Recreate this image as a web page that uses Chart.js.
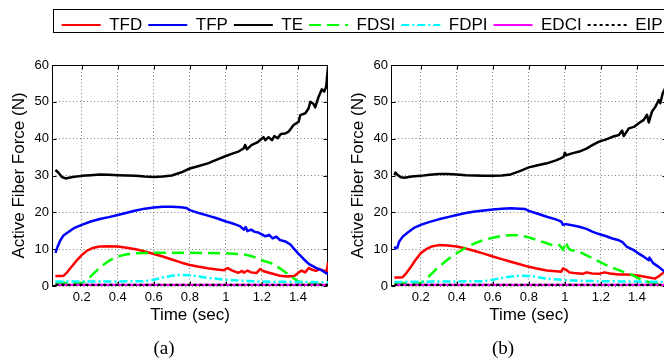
<!DOCTYPE html>
<html><head><meta charset="utf-8">
<script src="https://cdn.jsdelivr.net/npm/chart.js@4/dist/chart.umd.min.js"></script>
<style>
html,body{margin:0;padding:0;background:#fff;overflow:hidden;}
#wrap{position:relative;width:664px;height:360px;overflow:hidden;background:#fff;}
canvas{position:absolute;top:0;}
</style></head><body>
<div id="wrap">
<canvas id="cA" width="340" height="360" style="left:0px"></canvas>
<canvas id="cB" width="340" height="360" style="left:339px"></canvas>
<canvas id="cL" width="760" height="50" style="left:0px"></canvas>
</div>
<script>
// ---------- categories / ticks ----------
const SERIES_NAMES = ['TFD','TFP','TE','FDSI','FDPI','EDCI','EIP'];
const X_TICKS = [0.2,0.4,0.6,0.8,1.0,1.2,1.4];
const X_TICK_LABELS = ['0.2','0.4','0.6','0.8','1','1.2','1.4'];
const Y_TICKS = [0,10,20,30,40,50,60];
const X_MIN = 0.035, X_MAX = 1.567, Y_MIN = 0, Y_MAX = 60;
const CAPTIONS = ['(a)','(b)'];

// ---------- panel (a) values: [time sec, force N] ----------
const A_TFD = [[0.054,2.7],[0.08,2.7],[0.1,2.8],[0.12,3.8],[0.14,5.0],[0.17,6.8],[0.2,8.4],[0.23,9.6],[0.26,10.3],[0.3,10.7],[0.35,10.8],[0.4,10.7],[0.45,10.4],[0.5,10.0],[0.55,9.4],[0.6,8.7],[0.65,8.0],[0.7,7.2],[0.75,6.4],[0.8,5.7],[0.85,5.2],[0.9,4.8],[0.95,4.5],[0.99,4.3],[1.01,4.9],[1.03,4.3],[1.05,3.9],[1.07,3.6],[1.09,4.1],[1.1,3.6],[1.12,4.2],[1.14,3.7],[1.17,3.5],[1.19,4.6],[1.21,4.0],[1.24,3.6],[1.27,3.2],[1.3,2.8],[1.34,2.6],[1.38,2.7],[1.4,3.5],[1.42,4.2],[1.44,3.7],[1.46,4.9],[1.48,4.4],[1.5,4.1],[1.52,4.6],[1.54,4.2],[1.56,4.0],[1.567,6.4]];
const A_TFP = [[0.054,9.0],[0.065,10.5],[0.08,12.3],[0.1,13.8],[0.13,14.8],[0.16,15.8],[0.2,16.6],[0.25,17.5],[0.3,18.2],[0.35,18.7],[0.4,19.3],[0.45,19.9],[0.5,20.5],[0.55,21.0],[0.6,21.3],[0.65,21.5],[0.7,21.5],[0.75,21.4],[0.78,21.2],[0.8,20.6],[0.85,19.8],[0.9,19.1],[0.95,18.4],[1.0,17.5],[1.03,17.1],[1.06,16.6],[1.08,16.2],[1.1,15.3],[1.11,16.0],[1.12,14.9],[1.14,15.3],[1.16,14.7],[1.18,14.5],[1.2,14.0],[1.22,13.5],[1.24,13.9],[1.26,12.9],[1.28,13.4],[1.3,12.5],[1.33,12.1],[1.36,11.2],[1.38,10.0],[1.4,8.9],[1.43,7.4],[1.46,6.0],[1.5,4.9],[1.53,4.3],[1.567,3.2]];
const A_TE = [[0.054,31.5],[0.07,30.8],[0.09,29.6],[0.11,29.2],[0.15,29.6],[0.2,29.9],[0.25,30.1],[0.3,30.3],[0.35,30.2],[0.4,30.1],[0.45,30.0],[0.5,29.9],[0.55,29.7],[0.6,29.6],[0.65,29.7],[0.7,30.0],[0.75,30.8],[0.8,31.9],[0.85,32.6],[0.9,33.3],[0.95,34.3],[1.0,35.3],[1.04,36.0],[1.07,36.5],[1.1,37.4],[1.107,38.3],[1.117,37.1],[1.144,38.3],[1.172,38.9],[1.19,39.6],[1.209,40.4],[1.219,39.6],[1.237,40.4],[1.256,39.6],[1.269,40.7],[1.287,40.1],[1.306,41.3],[1.33,41.4],[1.348,41.9],[1.376,43.7],[1.404,44.6],[1.413,46.4],[1.441,46.9],[1.459,48.2],[1.469,50.0],[1.487,49.4],[1.496,48.5],[1.515,51.4],[1.533,53.4],[1.546,52.8],[1.557,54.1],[1.567,59.5]];
const A_FDSI = [[0.054,0.8],[0.2,0.8],[0.22,1.3],[0.25,2.6],[0.3,5.0],[0.35,6.8],[0.4,8.0],[0.45,8.6],[0.5,8.9],[0.6,9.0],[0.8,9.0],[1.0,8.9],[1.1,8.6],[1.15,8.0],[1.2,7.0],[1.25,6.2],[1.3,4.8],[1.35,3.0],[1.4,1.3],[1.45,0.6],[1.567,0.4]];
const A_FDPI = [[0.054,1.2],[0.3,1.2],[0.55,1.3],[0.6,1.7],[0.65,2.3],[0.7,2.8],[0.75,3.0],[0.8,2.9],[0.85,2.6],[0.9,2.2],[1.0,1.7],[1.1,1.4],[1.2,1.2],[1.4,1.1],[1.567,1.0]];
const A_EDCI = [[0.054,0.3],[1.567,0.3]];
const A_EIP = [[0.054,0.3],[1.567,0.3]];

// ---------- panel (b) values ----------
const B_TFD = [[0.054,2.3],[0.08,2.3],[0.1,2.4],[0.12,3.5],[0.14,4.8],[0.17,7.0],[0.2,8.9],[0.23,10.0],[0.26,10.7],[0.3,11.1],[0.35,11.0],[0.4,10.7],[0.45,10.2],[0.5,9.5],[0.55,8.8],[0.6,8.0],[0.65,7.3],[0.7,6.6],[0.75,5.9],[0.8,5.2],[0.85,4.7],[0.9,4.2],[0.95,4.0],[0.98,3.9],[0.99,4.8],[1.01,4.3],[1.025,3.7],[1.05,3.5],[1.08,3.4],[1.1,3.3],[1.12,3.7],[1.15,3.4],[1.19,3.3],[1.22,3.7],[1.25,3.4],[1.3,3.1],[1.34,3.1],[1.38,3.0],[1.42,2.7],[1.46,2.4],[1.5,2.0],[1.52,2.6],[1.543,3.5],[1.567,3.6]];
const B_TFP = [[0.054,10.7],[0.06,10.2],[0.07,10.4],[0.08,12.0],[0.1,13.4],[0.13,14.6],[0.16,15.7],[0.2,16.6],[0.25,17.4],[0.3,18.1],[0.35,18.7],[0.4,19.3],[0.45,19.8],[0.5,20.2],[0.55,20.5],[0.6,20.8],[0.65,21.0],[0.7,21.1],[0.75,21.0],[0.78,20.9],[0.8,20.4],[0.85,19.6],[0.9,18.8],[0.95,18.1],[0.98,17.5],[0.99,16.6],[1.007,16.8],[1.04,16.5],[1.08,16.1],[1.12,15.5],[1.155,14.7],[1.19,14.1],[1.23,13.5],[1.264,12.9],[1.3,12.4],[1.318,12.0],[1.345,10.6],[1.38,9.8],[1.41,8.8],[1.44,7.9],[1.466,7.0],[1.47,7.7],[1.49,6.2],[1.521,5.2],[1.543,4.3],[1.567,3.3]];
const B_TE = [[0.054,30.1],[0.06,30.8],[0.07,30.2],[0.09,29.5],[0.11,29.4],[0.15,29.7],[0.2,29.9],[0.25,30.2],[0.3,30.4],[0.35,30.4],[0.4,30.3],[0.45,30.1],[0.5,30.0],[0.55,29.9],[0.6,29.9],[0.65,30.0],[0.7,30.3],[0.75,31.2],[0.8,32.2],[0.85,32.8],[0.9,33.3],[0.95,34.1],[0.98,34.7],[0.995,35.2],[1.0,36.2],[1.007,35.5],[1.04,36.0],[1.08,36.5],[1.12,37.3],[1.155,38.3],[1.19,39.2],[1.23,39.8],[1.264,40.5],[1.3,41.0],[1.318,42.2],[1.327,40.7],[1.355,42.8],[1.383,43.2],[1.41,44.2],[1.438,45.1],[1.456,46.5],[1.466,44.4],[1.484,47.4],[1.503,48.7],[1.521,50.5],[1.53,49.6],[1.543,52.3],[1.555,53.5],[1.567,54.5]];
const B_FDSI = [[0.054,0.8],[0.2,0.8],[0.22,1.4],[0.25,2.8],[0.3,5.2],[0.35,7.2],[0.4,8.9],[0.45,10.4],[0.5,11.6],[0.55,12.5],[0.6,13.1],[0.65,13.6],[0.7,13.8],[0.75,13.8],[0.8,13.2],[0.85,12.4],[0.9,11.6],[0.95,10.8],[0.97,11.1],[0.99,9.8],[1.007,12.0],[1.015,10.6],[1.03,9.8],[1.08,9.3],[1.155,7.5],[1.229,5.7],[1.3,4.3],[1.373,3.0],[1.42,1.8],[1.466,1.1],[1.5,0.8],[1.567,0.7]];
const B_FDPI = [[0.054,1.1],[0.3,1.2],[0.55,1.3],[0.6,1.7],[0.65,2.2],[0.7,2.6],[0.75,2.8],[0.8,2.7],[0.85,2.4],[0.9,2.0],[1.0,1.6],[1.1,1.4],[1.2,1.3],[1.4,1.2],[1.567,1.1]];
const B_EDCI = [[0.054,0.3],[1.567,0.3]];
const B_EIP = [[0.054,0.3],[1.567,0.3]];

// ---------- styles ----------
const SANS = "'Liberation Sans', Arial, Helvetica, sans-serif";
const SERIF = "'Liberation Serif', 'Times New Roman', serif";
const STYLES = {
  TFD:{color:'#ff0000',dash:[]},
  TFP:{color:'#0000ff',dash:[]},
  TE:{color:'#000000',dash:[]},
  FDSI:{color:'#00ff00',dash:[12,6]},
  FDPI:{color:'#00ffff',dash:[8,3,2,3]},
  EDCI:{color:'#ff00ff',dash:[]},
  EIP:{color:'#000000',dash:[3,3]}
};
const GRID = 'rgba(0,0,0,0.5)';
Chart.defaults.font.family = SANS;
Chart.defaults.color = '#000';

function makeDatasets(series){
  return SERIES_NAMES.map((name,i)=>({
    label:name,
    data: series[i].map(p=>({x:p[0],y:p[1]})),
    borderColor: STYLES[name].color,
    backgroundColor: STYLES[name].color,
    borderDash: STYLES[name].dash,
    borderWidth: 2.5,
    pointRadius: 0,
    fill: false,
    tension: 0,
    borderCapStyle: 'butt',
    borderJoinStyle: 'round',
    order: SERIES_NAMES.length - i
  }));
}

const frame = {
  id:'frame',
  beforeDatasetsDraw(chart){
    const {ctx, chartArea:a, scales} = chart;
    ctx.save();
    ctx.strokeStyle = '#000'; ctx.lineWidth = 1; ctx.setLineDash([]);
    const L = Math.round(a.left)+0.5, R = Math.round(a.right)-0.5, T = Math.round(a.top)+0.5, B = Math.round(a.bottom)-0.5;
    ctx.strokeRect(L, T, R-L, B-T);
    ctx.beginPath();
    X_TICKS.forEach(v=>{
      const px = Math.round(scales.x.getPixelForValue(v))+0.5;
      ctx.moveTo(px,B); ctx.lineTo(px,B-4);
      ctx.moveTo(px,T); ctx.lineTo(px,T+4);
    });
    Y_TICKS.forEach(v=>{
      const py = Math.round(scales.y.getPixelForValue(v))+0.5;
      ctx.moveTo(L,py); ctx.lineTo(L+4,py);
      ctx.moveTo(R,py); ctx.lineTo(R-4,py);
    });
    ctx.stroke();
    ctx.restore();
  }
};

function plotConfig(series, caption){
  return {
    type:'line',
    data:{datasets: makeDatasets(series)},
    options:{
      responsive:false, animation:false, devicePixelRatio:1,
      layout:{padding:{top:65,right:12,bottom:0,left:0}},
      plugins:{
        legend:{display:false},
        tooltip:{enabled:false},
        title:{display:true, position:'bottom', text:caption, color:'#000',
               font:{family:SERIF, size:19, weight:'normal'}, padding:{top:0,bottom:0}}
      },
      scales:{
        x:{
          type:'linear', min:X_MIN, max:X_MAX,
          afterBuildTicks: s=>{ s.ticks = X_TICKS.map(v=>({value:v})); },
          afterFit: s=>{ s.height = 51.2; },
          ticks:{autoSkip:false, maxRotation:0, padding:4, color:'#000',
                 font:{family:SANS,size:13}, callback:(v,i)=>X_TICK_LABELS[i]},
          grid:{color:GRID, lineWidth:1, drawTicks:false},
          border:{display:false, dash:[1,2.5]},
          title:{display:true, text:'Time (sec)', color:'#000', font:{family:SANS,size:17}, padding:{top:0,bottom:12}}
        },
        y:{
          type:'linear', min:Y_MIN, max:Y_MAX,
          afterBuildTicks: s=>{ s.ticks = Y_TICKS.map(v=>({value:v})); },
          afterFit: s=>{ s.width = 52; },
          ticks:{padding:3, color:'#000', font:{family:SANS,size:13}},
          grid:{color:GRID, lineWidth:1, drawTicks:false},
          border:{display:false, dash:[1,2.5]},
          title:{display:true, text:'Active Fiber Force (N)', color:'#000', font:{family:SANS,size:17}, padding:{top:9,bottom:0}}
        }
      }
    },
    plugins:[frame]
  };
}

new Chart(document.getElementById('cA'), plotConfig([A_TFD,A_TFP,A_TE,A_FDSI,A_FDPI,A_EDCI,A_EIP], CAPTIONS[0]));
new Chart(document.getElementById('cB'), plotConfig([B_TFD,B_TFP,B_TE,B_FDSI,B_FDPI,B_EDCI,B_EIP], CAPTIONS[1]));

// ---------- shared legend ----------
const legendFrame = {
  id:'legendFrame',
  afterDraw(chart){
    const L = chart.legend, ctx = chart.ctx;
    ctx.save();
    ctx.strokeStyle = '#000'; ctx.lineWidth = 1; ctx.setLineDash([]);
    ctx.strokeRect(Math.round(L.left-2.5)+0.5, Math.round(L.top-1.5)+0.5, L.width+20, Math.round(L.height+3.5));
    ctx.restore();
  }
};
new Chart(document.getElementById('cL'), {
  type:'line',
  data:{datasets: SERIES_NAMES.map(name=>({label:name, data:[], borderColor:STYLES[name].color, borderDash:STYLES[name].dash, borderWidth:2}))},
  options:{
    responsive:false, animation:false, devicePixelRatio:1,
    layout:{padding:{left:55.7, top:10.5, right:0, bottom:0}},
    scales:{x:{display:false}, y:{display:false}},
    plugins:{
      tooltip:{enabled:false},
      legend:{
        display:true, position:'top', align:'start',
        labels:{
          usePointStyle:true, pointStyle:'line', pointStyleWidth:39, padding:6, color:'#000',
          font:{family:SANS, size:17},
          generateLabels:(chart)=>chart.data.datasets.map((ds,i)=>({
            text: ds.label, fillStyle: ds.borderColor, strokeStyle: ds.borderColor,
            lineWidth: 2, lineDash: ds.borderDash, lineCap:'butt', pointStyle:'line',
            hidden:false, datasetIndex:i, fontColor:'#000'
          }))
        }
      }
    }
  },
  plugins:[legendFrame]
});
</script>
</body></html>
